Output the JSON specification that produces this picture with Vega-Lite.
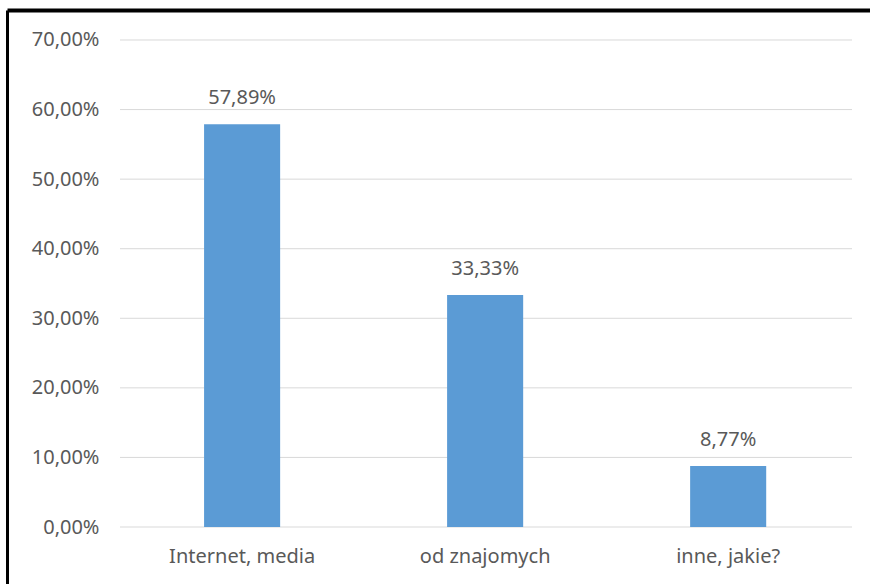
{
  "$schema": "https://vega.github.io/schema/vega-lite/v6.json",
  "width": 863,
  "height": 574,
  "autosize": "none",
  "padding": {"left": 7, "top": 10, "right": 0, "bottom": 0},
  "background": "white",
  "config": {
    "locale": {"number": {"decimal": ",", "thousands": " ", "grouping": [3], "currency": ["", " zł"]}},
    "view": {"stroke": null},
    "font": "Noto Sans"
  },
  "layer": [
    {
      "data": {"values": [{"tick": 0}, {"tick": 0.1}, {"tick": 0.2}, {"tick": 0.3}, {"tick": 0.4}, {"tick": 0.5}, {"tick": 0.6}, {"tick": 0.7}]},
      "mark": {"type": "rule", "color": "#d9d9d9", "strokeWidth": 1},
      "encoding": {
        "y": {
          "field": "tick",
          "type": "quantitative",
          "scale": {"domain": [-0.08193, 0.74312], "zero": false, "nice": false},
          "axis": {
            "orient": "left",
            "title": null,
            "values": [0, 0.1, 0.2, 0.3, 0.4, 0.5, 0.6, 0.7],
            "format": ".2%",
            "grid": false,
            "ticks": false,
            "tickSize": 0,
            "domain": true,
            "domainColor": "#000000",
            "domainWidth": 3,
            "labelPadding": -92,
            "labelAlign": "right",
            "labelBaseline": "middle",
            "labelFontSize": 20,
            "labelColor": "#595959",
            "labelFont": "Noto Sans",
            "labelOverlap": false
          }
        },
        "x": {
          "datum": 0,
          "type": "quantitative",
          "scale": {"domain": [-0.15437, 1.02459], "zero": false, "nice": false},
          "axis": {
            "orient": "top",
            "title": null,
            "labels": false,
            "ticks": false,
            "grid": false,
            "domain": true,
            "domainColor": "#000000",
            "domainWidth": 4
          }
        },
        "x2": {"datum": 1}
      }
    },
    {
      "data": {"values": [
        {"category": "Internet, media", "value": 0.5789},
        {"category": "od znajomych", "value": 0.3333},
        {"category": "inne, jakie?", "value": 0.0877}
      ]},
      "encoding": {
        "x": {
          "field": "category",
          "type": "nominal",
          "sort": null,
          "scale": {"paddingInner": 0.687, "paddingOuter": 0.619, "align": 0.655},
          "axis": {
            "orient": "bottom",
            "title": null,
            "domain": false,
            "ticks": false,
            "tickSize": 0,
            "grid": false,
            "labelAngle": 0,
            "labelPadding": -22,
            "labelBaseline": "alphabetic",
            "labelFontSize": 20,
            "labelColor": "#595959",
            "labelFont": "Noto Sans"
          }
        },
        "y": {"field": "value", "type": "quantitative"}
      },
      "layer": [
        {
          "mark": {"type": "bar", "color": "#5b9bd5"},
          "encoding": {"y2": {"datum": 0}}
        },
        {
          "mark": {"type": "text", "color": "#595959", "fontSize": 20, "font": "Noto Sans", "baseline": "alphabetic", "align": "center", "dy": -20},
          "encoding": {"text": {"field": "value", "type": "quantitative", "format": ".2%"}}
        }
      ]
    }
  ],
  "resolve": {"scale": {"x": "independent"}, "axis": {"x": "independent"}}
}
